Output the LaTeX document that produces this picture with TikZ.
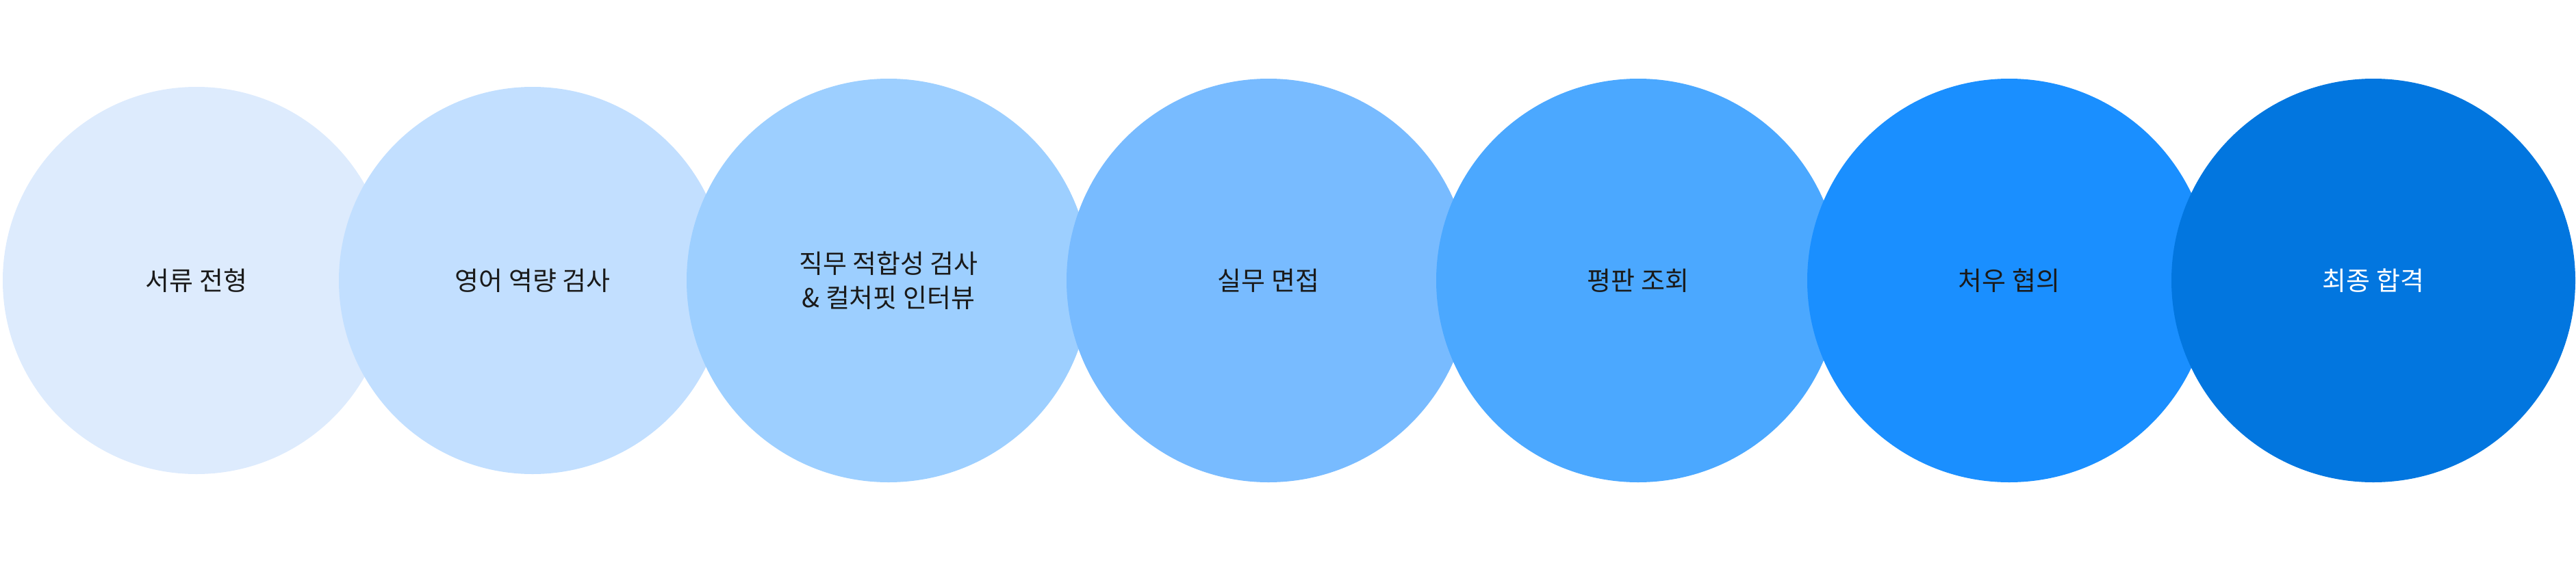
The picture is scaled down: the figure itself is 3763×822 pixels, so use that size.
\documentclass[tikz,border=0pt]{standalone}
\usepackage{fontspec}
\newfontfamily\kr{Noto Sans CJK KR}
\definecolor{c1}{HTML}{DDEBFD}
\definecolor{c2}{HTML}{C2DFFF}
\definecolor{c3}{HTML}{9DCFFF}
\definecolor{c4}{HTML}{78BBFF}
\definecolor{c5}{HTML}{4BA8FF}
\definecolor{c6}{HTML}{1A8FFF}
\definecolor{c7}{HTML}{0276DF}
\definecolor{tx}{HTML}{1A1A1A}
\begin{document}
\begin{tikzpicture}[x=1pt,y=-1pt,
  stage/.style={circle,inner sep=0pt,text=tx,align=center,font=\kr\fontsize{38}{50}\selectfont}]
\useasboundingbox (0,0) rectangle (3763,822);
\node[stage,fill=c1,minimum size=566] (s1) at (287,410) {서류 전형};
\node[stage,fill=c2,minimum size=566] (s2) at (778,410) {영어 역량 검사};
\node[stage,fill=c3,minimum size=590] (s3) at (1298,410) {직무 적합성 검사\\\& 컬처핏 인터뷰};
\node[stage,fill=c4,minimum size=590] (s4) at (1853,410) {실무 면접};
\node[stage,fill=c5,minimum size=590] (s5) at (2393,410) {평판 조회};
\node[stage,fill=c6,minimum size=590] (s6) at (2935,410) {처우 협의};
\node[stage,fill=c7,minimum size=590,text=white] (s7) at (3467,410) {최종 합격};
\end{tikzpicture}
\end{document}
